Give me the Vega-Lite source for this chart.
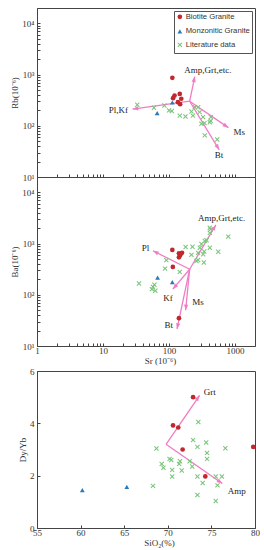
{
 "$schema": "https://vega.github.io/schema/vega-lite/v6.json",
 "padding": {"left": 10, "top": 7, "right": 6, "bottom": 2},
 "background": "white",
 "config": {
  "view": {"stroke": "#444", "strokeWidth": 1},
  "axis": {"labelFont": "Liberation Serif", "titleFont": "Liberation Serif", "labelFontSize": 9, "titleFontSize": 9, "titleFontWeight": "normal", "labelColor": "#333", "titleColor": "#333", "domainColor": "#444", "tickColor": "#444", "grid": false, "tickSize": -3, "labelPadding": 6, "labelOverlap": false, "labelFlush": false, "titlePadding": 2},
  "axisX": {"labelPadding": 3, "titlePadding": 1}
 },
 "datasets": {
  "ptsA": [
   {"x": 112, "y": 865, "g": "Biotite Granite"},
   {"x": 121, "y": 390, "g": "Biotite Granite"},
   {"x": 145, "y": 420, "g": "Biotite Granite"},
   {"x": 153, "y": 338, "g": "Biotite Granite"},
   {"x": 136, "y": 290, "g": "Biotite Granite"},
   {"x": 147, "y": 265, "g": "Biotite Granite"},
   {"x": 115, "y": 347, "g": "Biotite Granite"},
   {"x": 66, "y": 177, "g": "Monzonitic Granite"},
   {"x": 112, "y": 285, "g": "Monzonitic Granite"},
   {"x": 33, "y": 258, "g": "Literature data"},
   {"x": 59, "y": 225, "g": "Literature data"},
   {"x": 85, "y": 250, "g": "Literature data"},
   {"x": 100, "y": 200, "g": "Literature data"},
   {"x": 110, "y": 194, "g": "Literature data"},
   {"x": 145, "y": 158, "g": "Literature data"},
   {"x": 177, "y": 152, "g": "Literature data"},
   {"x": 218, "y": 191, "g": "Literature data"},
   {"x": 230, "y": 158, "g": "Literature data"},
   {"x": 245, "y": 232, "g": "Literature data"},
   {"x": 275, "y": 230, "g": "Literature data"},
   {"x": 290, "y": 185, "g": "Literature data"},
   {"x": 327, "y": 148, "g": "Literature data"},
   {"x": 344, "y": 113, "g": "Literature data"},
   {"x": 347, "y": 65, "g": "Literature data"},
   {"x": 414, "y": 117, "g": "Literature data"},
   {"x": 425, "y": 125, "g": "Literature data"},
   {"x": 430, "y": 148, "g": "Literature data"},
   {"x": 535, "y": 54, "g": "Literature data"},
   {"x": 309, "y": 110, "g": "Literature data"}
  ],
  "arrA": [
   {"x": 205, "y": 302, "x2": 245, "y2": 918, "label": "Amp,Grt,etc.", "lx": 386, "ly": 1250},
   {"x": 205, "y": 302, "x2": 28, "y2": 212, "label": "Pl,Kf", "lx": 17, "ly": 206},
   {"x": 205, "y": 302, "x2": 790, "y2": 92, "label": "Ms", "lx": 1158, "ly": 76},
   {"x": 205, "y": 302, "x2": 574, "y2": 34, "label": "Bt", "lx": 569, "ly": 27}
  ],
  "ptsB": [
   {"x": 112, "y": 754, "g": "Biotite Granite"},
   {"x": 141, "y": 646, "g": "Biotite Granite"},
   {"x": 157, "y": 660, "g": "Biotite Granite"},
   {"x": 141, "y": 540, "g": "Biotite Granite"},
   {"x": 147, "y": 590, "g": "Biotite Granite"},
   {"x": 114, "y": 351, "g": "Biotite Granite"},
   {"x": 141, "y": 35, "g": "Biotite Granite"},
   {"x": 67, "y": 217, "g": "Monzonitic Granite"},
   {"x": 112, "y": 177, "g": "Monzonitic Granite"},
   {"x": 35, "y": 166, "g": "Literature data"},
   {"x": 55, "y": 129, "g": "Literature data"},
   {"x": 60, "y": 157, "g": "Literature data"},
   {"x": 57, "y": 143, "g": "Literature data"},
   {"x": 62, "y": 120, "g": "Literature data"},
   {"x": 91, "y": 475, "g": "Literature data"},
   {"x": 87, "y": 325, "g": "Literature data"},
   {"x": 145, "y": 280, "g": "Literature data"},
   {"x": 178, "y": 861, "g": "Literature data"},
   {"x": 226, "y": 871, "g": "Literature data"},
   {"x": 218, "y": 603, "g": "Literature data"},
   {"x": 260, "y": 457, "g": "Literature data"},
   {"x": 292, "y": 832, "g": "Literature data"},
   {"x": 328, "y": 618, "g": "Literature data"},
   {"x": 336, "y": 427, "g": "Literature data"},
   {"x": 414, "y": 832, "g": "Literature data"},
   {"x": 340, "y": 700, "g": "Literature data"},
   {"x": 414, "y": 1620, "g": "Literature data"},
   {"x": 425, "y": 1900, "g": "Literature data"},
   {"x": 555, "y": 692, "g": "Literature data"},
   {"x": 787, "y": 1370, "g": "Literature data"},
   {"x": 369, "y": 1160, "g": "Literature data"},
   {"x": 309, "y": 980, "g": "Literature data"},
   {"x": 275, "y": 660, "g": "Literature data"},
   {"x": 347, "y": 1130, "g": "Literature data"},
   {"x": 275, "y": 480, "g": "Literature data"},
   {"x": 414, "y": 2040, "g": "Literature data"}
  ],
  "arrB": [
   {"x": 205, "y": 316, "x2": 511, "y2": 2320, "label": "Amp,Grt,etc.", "lx": 625, "ly": 3126},
   {"x": 205, "y": 316, "x2": 57, "y2": 724, "label": "Pl", "lx": 44, "ly": 813},
   {"x": 205, "y": 316, "x2": 114, "y2": 129, "label": "Kf", "lx": 96, "ly": 88},
   {"x": 205, "y": 316, "x2": 178, "y2": 50, "label": "Ms", "lx": 275, "ly": 71},
   {"x": 205, "y": 316, "x2": 132, "y2": 21.6, "label": "Bt", "lx": 99, "ly": 26}
  ],
  "ptsC": [
   {"x": 72.9, "y": 5.0, "g": "Biotite Granite"},
   {"x": 70.6, "y": 3.92, "g": "Biotite Granite"},
   {"x": 71.2, "y": 3.84, "g": "Biotite Granite"},
   {"x": 71.7, "y": 3.0, "g": "Biotite Granite"},
   {"x": 74.3, "y": 1.97, "g": "Biotite Granite"},
   {"x": 79.8, "y": 3.1, "g": "Biotite Granite"},
   {"x": 60.2, "y": 1.45, "g": "Monzonitic Granite"},
   {"x": 65.3, "y": 1.57, "g": "Monzonitic Granite"},
   {"x": 68.7, "y": 3.04, "g": "Literature data"},
   {"x": 72.9, "y": 3.36, "g": "Literature data"},
   {"x": 73.5, "y": 4.05, "g": "Literature data"},
   {"x": 73.4, "y": 3.1, "g": "Literature data"},
   {"x": 74.4, "y": 3.27, "g": "Literature data"},
   {"x": 74.5, "y": 2.87, "g": "Literature data"},
   {"x": 74.5, "y": 2.64, "g": "Literature data"},
   {"x": 76.6, "y": 3.05, "g": "Literature data"},
   {"x": 70.2, "y": 2.64, "g": "Literature data"},
   {"x": 70.4, "y": 2.6, "g": "Literature data"},
   {"x": 71.4, "y": 2.55, "g": "Literature data"},
   {"x": 71.3, "y": 2.45, "g": "Literature data"},
   {"x": 69.3, "y": 2.45, "g": "Literature data"},
   {"x": 69.5, "y": 2.3, "g": "Literature data"},
   {"x": 70.5, "y": 2.22, "g": "Literature data"},
   {"x": 71.6, "y": 2.2, "g": "Literature data"},
   {"x": 72.8, "y": 2.35, "g": "Literature data"},
   {"x": 72.5, "y": 2.55, "g": "Literature data"},
   {"x": 70.5, "y": 1.97, "g": "Literature data"},
   {"x": 73.4, "y": 1.97, "g": "Literature data"},
   {"x": 75.5, "y": 1.97, "g": "Literature data"},
   {"x": 76.2, "y": 1.97, "g": "Literature data"},
   {"x": 74.0, "y": 1.72, "g": "Literature data"},
   {"x": 75.7, "y": 1.63, "g": "Literature data"},
   {"x": 68.3, "y": 1.61, "g": "Literature data"},
   {"x": 73.4, "y": 1.26, "g": "Literature data"},
   {"x": 75.5, "y": 1.03, "g": "Literature data"}
  ],
  "arrC": [
   {"x": 69.8, "y": 3.2, "x2": 73.65, "y2": 5.07, "label": "Grt", "lx": 74.8, "ly": 5.2},
   {"x": 69.8, "y": 3.2, "x2": 76.25, "y2": 1.7, "label": "Amp", "lx": 77.9, "ly": 1.42}
  ]
 },
 "resolve": {"scale": {"color": "independent", "shape": "independent", "size": "independent"}},
 "spacing": 0,
 "vconcat": [
  {
   "spacing": 0,
   "bounds": "flush",
   "resolve": {"scale": {"color": "independent", "shape": "independent", "size": "independent"}},
   "vconcat": [
    {
     "name": "pa",
     "width": 218, "height": 169,
     "layer": [
      {
       "data": {"name": "arrA"},
       "mark": {"type": "rule", "color": "#f07cc4", "strokeWidth": 1.3},
       "encoding": {
        "x": {"field": "x", "type": "quantitative", "scale": {"type": "log", "domain": [1, 2000]},
              "axis": {"labels": false, "title": null, "values": [1,2,3,4,5,6,7,8,9,10,20,30,40,50,60,70,80,90,100,200,300,400,500,600,700,800,900,1000]}},
        "y": {"field": "y", "type": "quantitative", "scale": {"type": "log", "domain": [10, 20000]},
              "axis": {"title": "Rb(10⁻⁶)", "values": [10,20,30,40,50,60,70,80,90,100,200,300,400,500,600,700,800,900,1000,2000,3000,4000,5000,6000,7000,8000,9000,10000],
                       "labelExpr": "datum.value==10?'10¹':datum.value==100?'10²':datum.value==1000?'10³':datum.value==10000?'10⁴':''"}},
        "x2": {"field": "x2"},
        "y2": {"field": "y2"}
       }
      },
      {
       "data": {"name": "arrA"},
       "mark": {"type": "point", "shape": "M0,0L-0.6,1.6L0.6,1.6Z", "filled": true, "opacity": 1, "color": "#f07cc4", "size": 50,
                "angle": {"expr": "atan2(scale('pa_x', datum.x2) - scale('pa_x', datum.x), scale('pa_y', datum.y) - scale('pa_y', datum.y2)) * 180 / PI"}},
       "encoding": {
        "x": {"field": "x2", "type": "quantitative", "scale": {"type": "log", "domain": [1, 2000]}},
        "y": {"field": "y2", "type": "quantitative", "scale": {"type": "log", "domain": [10, 20000]}}
       }
      },
      {
       "data": {"name": "arrA"},
       "mark": {"type": "text", "font": "Liberation Serif", "fontSize": 9, "color": "#222", "align": "center", "baseline": "middle"},
       "encoding": {
        "x": {"field": "lx", "type": "quantitative", "scale": {"type": "log", "domain": [1, 2000]}},
        "y": {"field": "ly", "type": "quantitative", "scale": {"type": "log", "domain": [10, 20000]}},
        "text": {"field": "label"}
       }
      },
      {
       "mark": {"type": "text", "font": "Liberation Sans", "fontSize": 14, "color": "#222", "align": "left", "baseline": "alphabetic"},
       "encoding": {
        "x": {"datum": 1.5, "type": "quantitative", "scale": {"type": "log", "domain": [1, 2000]}},
        "y": {"datum": 10200, "type": "quantitative", "scale": {"type": "log", "domain": [10, 20000]}},
        "text": {"value": "A"}
       }
      },
      {
       "data": {"name": "ptsA"},
       "mark": {"type": "point", "filled": true, "opacity": 1},
       "encoding": {
        "x": {"field": "x", "type": "quantitative", "scale": {"type": "log", "domain": [1, 2000]}},
        "y": {"field": "y", "type": "quantitative", "scale": {"type": "log", "domain": [10, 20000]}},
        "color": {"field": "g", "type": "nominal", "scale": {"domain": ["Biotite Granite", "Monzonitic Granite", "Literature data"], "range": ["#c1272d", "#2a7ab8", "#79c57a"]},
                  "legend": {"orient": "top-right", "title": null, "offset": 3, "padding": 2, "strokeColor": "#555", "fillColor": "white", "labelFont": "Liberation Sans", "labelFontSize": 7.7, "labelColor": "#333", "symbolSize": 28, "rowPadding": 2.5, "labelOffset": 2, "symbolOpacity": 1}},
        "shape": {"field": "g", "type": "nominal", "scale": {"domain": ["Biotite Granite", "Monzonitic Granite", "Literature data"], "range": ["circle", "triangle-up", "M-1,-0.7L-0.7,-1L0,-0.3L0.7,-1L1,-0.7L0.3,0L1,0.7L0.7,1L0,0.3L-0.7,1L-1,0.7L-0.3,0Z"]},
                  "legend": {"orient": "top-right", "title": null, "offset": 3, "padding": 2, "strokeColor": "#555", "fillColor": "white", "labelFont": "Liberation Sans", "labelFontSize": 7.7, "labelColor": "#333", "symbolSize": 28, "rowPadding": 2.5, "labelOffset": 2, "symbolOpacity": 1}},
        "size": {"field": "g", "type": "nominal", "scale": {"domain": ["Biotite Granite", "Monzonitic Granite", "Literature data"], "range": [22, 24, 14]}, "legend": null}
       }
      }
     ]
    },
    {
     "name": "pb",
     "width": 218, "height": 169,
     "layer": [
      {
       "data": {"name": "arrB"},
       "mark": {"type": "rule", "color": "#f07cc4", "strokeWidth": 1.3},
       "encoding": {
        "x": {"field": "x", "type": "quantitative", "scale": {"type": "log", "domain": [1, 2000]},
              "axis": {"title": "Sr (10⁻⁶)", "titleX": 123, "values": [1,2,3,4,5,6,7,8,9,10,20,30,40,50,60,70,80,90,100,200,300,400,500,600,700,800,900,1000],
                       "labelExpr": "datum.value==1?'1':datum.value==10?'10':datum.value==100?'100':datum.value==1000?'1000':''"}},
        "y": {"field": "y", "type": "quantitative", "scale": {"type": "log", "domain": [10, 20000]},
              "axis": {"title": "Ba(10⁻⁶)", "values": [10,20,30,40,50,60,70,80,90,100,200,300,400,500,600,700,800,900,1000,2000,3000,4000,5000,6000,7000,8000,9000,10000],
                       "labelExpr": "datum.value==10?'10¹':datum.value==100?'10²':datum.value==1000?'10³':datum.value==10000?'10⁴':''"}},
        "x2": {"field": "x2"},
        "y2": {"field": "y2"}
       }
      },
      {
       "data": {"name": "arrB"},
       "mark": {"type": "point", "shape": "M0,0L-0.6,1.6L0.6,1.6Z", "filled": true, "opacity": 1, "color": "#f07cc4", "size": 50,
                "angle": {"expr": "atan2(scale('pb_x', datum.x2) - scale('pb_x', datum.x), scale('pb_y', datum.y) - scale('pb_y', datum.y2)) * 180 / PI"}},
       "encoding": {
        "x": {"field": "x2", "type": "quantitative", "scale": {"type": "log", "domain": [1, 2000]}},
        "y": {"field": "y2", "type": "quantitative", "scale": {"type": "log", "domain": [10, 20000]}}
       }
      },
      {
       "data": {"name": "arrB"},
       "mark": {"type": "text", "font": "Liberation Serif", "fontSize": 9, "color": "#222", "align": "center", "baseline": "middle"},
       "encoding": {
        "x": {"field": "lx", "type": "quantitative", "scale": {"type": "log", "domain": [1, 2000]}},
        "y": {"field": "ly", "type": "quantitative", "scale": {"type": "log", "domain": [10, 20000]}},
        "text": {"field": "label"}
       }
      },
      {
       "mark": {"type": "text", "font": "Liberation Sans", "fontSize": 14, "color": "#222", "align": "left", "baseline": "alphabetic"},
       "encoding": {
        "x": {"datum": 1.5, "type": "quantitative", "scale": {"type": "log", "domain": [1, 2000]}},
        "y": {"datum": 10000, "type": "quantitative", "scale": {"type": "log", "domain": [10, 20000]}},
        "text": {"value": "B"}
       }
      },
      {
       "data": {"name": "ptsB"},
       "mark": {"type": "point", "filled": true, "opacity": 1},
       "encoding": {
        "x": {"field": "x", "type": "quantitative", "scale": {"type": "log", "domain": [1, 2000]}},
        "y": {"field": "y", "type": "quantitative", "scale": {"type": "log", "domain": [10, 20000]}},
        "color": {"field": "g", "type": "nominal", "scale": {"domain": ["Biotite Granite", "Monzonitic Granite", "Literature data"], "range": ["#c1272d", "#2a7ab8", "#79c57a"]}, "legend": null},
        "shape": {"field": "g", "type": "nominal", "scale": {"domain": ["Biotite Granite", "Monzonitic Granite", "Literature data"], "range": ["circle", "triangle-up", "M-1,-0.7L-0.7,-1L0,-0.3L0.7,-1L1,-0.7L0.3,0L1,0.7L0.7,1L0,0.3L-0.7,1L-1,0.7L-0.3,0Z"]}, "legend": null},
        "size": {"field": "g", "type": "nominal", "scale": {"domain": ["Biotite Granite", "Monzonitic Granite", "Literature data"], "range": [22, 24, 14]}, "legend": null}
       }
      }
     ]
    }
   ]
  },
  {
   "name": "pc",
   "width": 218, "height": 157,
   "layer": [
    {
     "data": {"name": "arrC"},
     "mark": {"type": "rule", "color": "#f07cc4", "strokeWidth": 1.3},
     "encoding": {
      "x": {"field": "x", "type": "quantitative", "scale": {"domain": [55, 80], "nice": false, "zero": false},
            "axis": {"title": "SiO₂(%)", "titleX": 122, "values": [55, 60, 65, 70, 75, 80]}},
      "y": {"field": "y", "type": "quantitative", "scale": {"domain": [0, 6], "nice": false},
            "axis": {"title": "Dy/Yb", "values": [0, 1, 2, 3, 4, 5, 6]}},
      "x2": {"field": "x2"},
      "y2": {"field": "y2"}
     }
    },
    {
     "data": {"name": "arrC"},
     "mark": {"type": "point", "shape": "M0,0L-0.6,1.6L0.6,1.6Z", "filled": true, "opacity": 1, "color": "#f07cc4", "size": 50,
              "angle": {"expr": "atan2(scale('pc_x', datum.x2) - scale('pc_x', datum.x), scale('pc_y', datum.y) - scale('pc_y', datum.y2)) * 180 / PI"}},
     "encoding": {
      "x": {"field": "x2", "type": "quantitative", "scale": {"domain": [55, 80], "nice": false, "zero": false}},
      "y": {"field": "y2", "type": "quantitative", "scale": {"domain": [0, 6], "nice": false}}
     }
    },
    {
     "data": {"name": "arrC"},
     "mark": {"type": "text", "font": "Liberation Serif", "fontSize": 9, "color": "#222", "align": "center", "baseline": "middle"},
     "encoding": {
      "x": {"field": "lx", "type": "quantitative", "scale": {"domain": [55, 80], "nice": false, "zero": false}},
      "y": {"field": "ly", "type": "quantitative", "scale": {"domain": [0, 6], "nice": false}},
      "text": {"field": "label"}
     }
    },
    {
     "mark": {"type": "text", "font": "Liberation Sans", "fontSize": 14, "color": "#222", "align": "left", "baseline": "alphabetic"},
     "encoding": {
      "x": {"datum": 55.9, "type": "quantitative", "scale": {"domain": [55, 80], "nice": false, "zero": false}},
      "y": {"datum": 5.35, "type": "quantitative", "scale": {"domain": [0, 6], "nice": false}},
      "text": {"value": "C"}
     }
    },
    {
     "data": {"name": "ptsC"},
     "mark": {"type": "point", "filled": true, "opacity": 1},
     "encoding": {
      "x": {"field": "x", "type": "quantitative", "scale": {"domain": [55, 80], "nice": false, "zero": false}},
      "y": {"field": "y", "type": "quantitative", "scale": {"domain": [0, 6], "nice": false}},
      "color": {"field": "g", "type": "nominal", "scale": {"domain": ["Biotite Granite", "Monzonitic Granite", "Literature data"], "range": ["#c1272d", "#2a7ab8", "#79c57a"]}, "legend": null},
      "shape": {"field": "g", "type": "nominal", "scale": {"domain": ["Biotite Granite", "Monzonitic Granite", "Literature data"], "range": ["circle", "triangle-up", "M-1,-0.7L-0.7,-1L0,-0.3L0.7,-1L1,-0.7L0.3,0L1,0.7L0.7,1L0,0.3L-0.7,1L-1,0.7L-0.3,0Z"]}, "legend": null},
      "size": {"field": "g", "type": "nominal", "scale": {"domain": ["Biotite Granite", "Monzonitic Granite", "Literature data"], "range": [22, 24, 14]}, "legend": null}
     }
    }
   ]
  }
 ]
}
